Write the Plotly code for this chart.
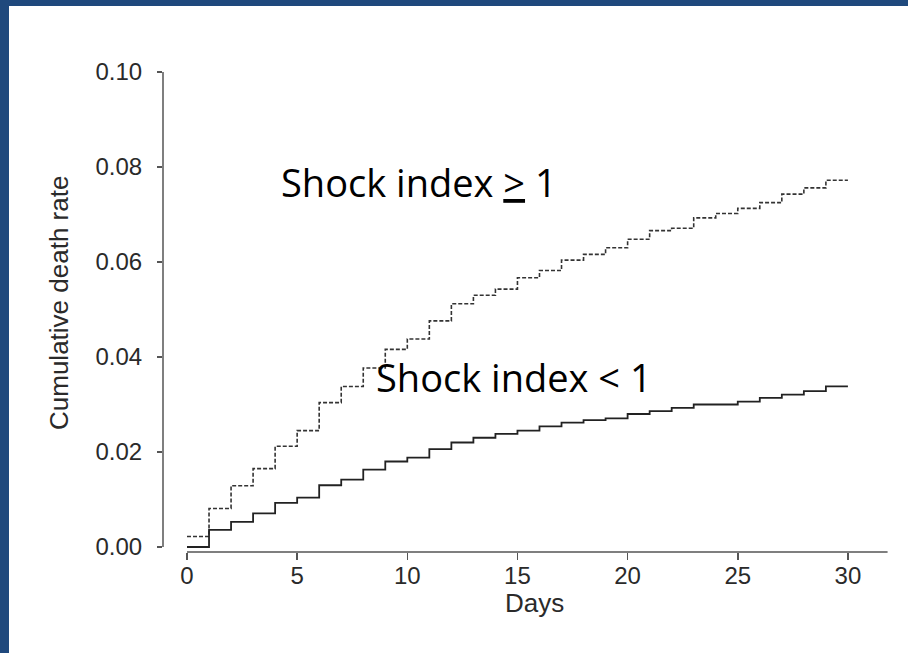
import plotly.graph_objects as go

# ---- data (cumulative death rate by day, step functions) ----
days = [0, 1, 2, 3, 4, 5, 6, 7, 8, 9, 10, 11, 12, 13, 14, 15,
        16, 17, 18, 19, 20, 21, 22, 23, 24, 25, 26, 27, 28, 29, 30]

shock_lt1 = [0.0000, 0.0036, 0.0053, 0.0071, 0.0093, 0.0104, 0.0130, 0.0142,
             0.0163, 0.0180, 0.0188, 0.0206, 0.0220, 0.0230, 0.0238, 0.0245,
             0.0254, 0.0262, 0.0267, 0.0271, 0.0280, 0.0286, 0.0293, 0.0300,
             0.0300, 0.0306, 0.0314, 0.0321, 0.0328, 0.0338, 0.0338]

shock_ge1 = [0.0022, 0.0081, 0.0129, 0.0165, 0.0212, 0.0245, 0.0304, 0.0338,
             0.0377, 0.0416, 0.0438, 0.0476, 0.0512, 0.0530, 0.0543, 0.0567,
             0.0582, 0.0604, 0.0616, 0.0630, 0.0648, 0.0666, 0.0671, 0.0693,
             0.0702, 0.0713, 0.0725, 0.0743, 0.0756, 0.0772, 0.0772]

x_ticks = [0, 5, 10, 15, 20, 25, 30]
y_ticks = [0.00, 0.02, 0.04, 0.06, 0.08, 0.10]
y_tick_labels = ["0.00", "0.02", "0.04", "0.06", "0.08", "0.10"]

label_ge1 = "Shock index <u>&gt;</u> 1"
label_lt1 = "Shock index &lt; 1"
x_title = "Days"
y_title = "Cumulative death rate"

# ---- layout geometry (pixels) ----
W, H = 908, 653
L, R, T, B = 163, 18, 72, 101
PW, PH = W - L - R, H - T - B


def fx(px):
    return (px - L) / PW


def fy(py):
    return (H - B - py) / PH


TICK_FONT = dict(family="Liberation Sans, Arial, sans-serif", size=24, color="#2a2a2a")
TITLE_FONT = dict(family="Liberation Sans, Arial, sans-serif", size=26, color="#2a2a2a")
AXIS_COLOR = "#555555"
FRAME = "rgb(31,73,125)"

fig = go.Figure()

fig.add_trace(go.Scatter(
    x=days, y=shock_ge1, mode="lines", line_shape="hv",
    line=dict(color="#333333", width=1.6, dash="4px,2px"),
    name="Shock index >= 1", showlegend=False, hoverinfo="skip"))

fig.add_trace(go.Scatter(
    x=days, y=shock_lt1, mode="lines", line_shape="hv",
    line=dict(color="#222222", width=1.8),
    name="Shock index < 1", showlegend=False, hoverinfo="skip"))

fig.update_layout(
    width=W, height=H,
    margin=dict(l=L, r=R, t=T, b=B),
    paper_bgcolor="white", plot_bgcolor="white",
    showlegend=False,
    xaxis=dict(
        range=[-1.0894, 31.91], tickmode="array", tickvals=x_ticks,
        ticktext=[str(v) for v in x_ticks],
        showgrid=False, zeroline=False, showline=False,
        ticks="outside", ticklen=7, tickwidth=1.5, tickcolor=AXIS_COLOR,
        tickfont=TICK_FONT, ticklabelstandoff=-5,
    ),
    yaxis=dict(
        range=[-0.00105, 0.10], tickmode="array", tickvals=y_ticks,
        ticktext=y_tick_labels,
        showgrid=False, zeroline=False, showline=False,
        ticks="outside", ticklen=5, tickwidth=1.5, tickcolor=AXIS_COLOR,
        tickfont=TICK_FONT, ticklabelstandoff=10,
    ),
)

shapes = [
    # axis lines (detached axes)
    dict(type="line", xref="paper", yref="y", x0=0, x1=0, y0=0, y1=0.10,
         line=dict(color=AXIS_COLOR, width=1.5)),
    dict(type="line", xref="x", yref="paper", x0=0, x1=31.8, y0=0, y1=0,
         line=dict(color=AXIS_COLOR, width=1.5)),
    # blue frame
    dict(type="rect", xref="paper", yref="paper", x0=fx(0), x1=fx(9),
         y0=fy(H), y1=fy(0), fillcolor=FRAME, line=dict(width=0)),
    dict(type="rect", xref="paper", yref="paper", x0=fx(0), x1=fx(W),
         y0=fy(6), y1=fy(0), fillcolor=FRAME, line=dict(width=0)),
]
fig.update_layout(shapes=shapes)

annotations = [
    dict(text=y_title, xref="paper", yref="paper", x=fx(59), y=fy(303),
         textangle=-90, showarrow=False, font=TITLE_FONT,
         xanchor="center", yanchor="middle"),
    dict(text=x_title, xref="paper", yref="paper", x=fx(534), y=fy(603),
         showarrow=False, font=TITLE_FONT, xanchor="center", yanchor="middle"),
    dict(text=label_ge1, xref="x", yref="y", x=16.9, y=0.0768,
         showarrow=False, xanchor="right", yanchor="middle",
         font=dict(family="Open Sans, sans-serif", size=38, color="black")),
    dict(text=label_lt1, xref="x", yref="y", x=8.5, y=0.0358,
         showarrow=False, xanchor="left", yanchor="middle",
         font=dict(family="Open Sans, sans-serif", size=38, color="black")),
]
fig.update_layout(annotations=annotations)

fig.write_html(
    "out.html",
    config={"displayModeBar": False, "staticPlot": True},
    post_script="document.body.style.margin='0px';document.body.style.overflow='hidden';",
)
